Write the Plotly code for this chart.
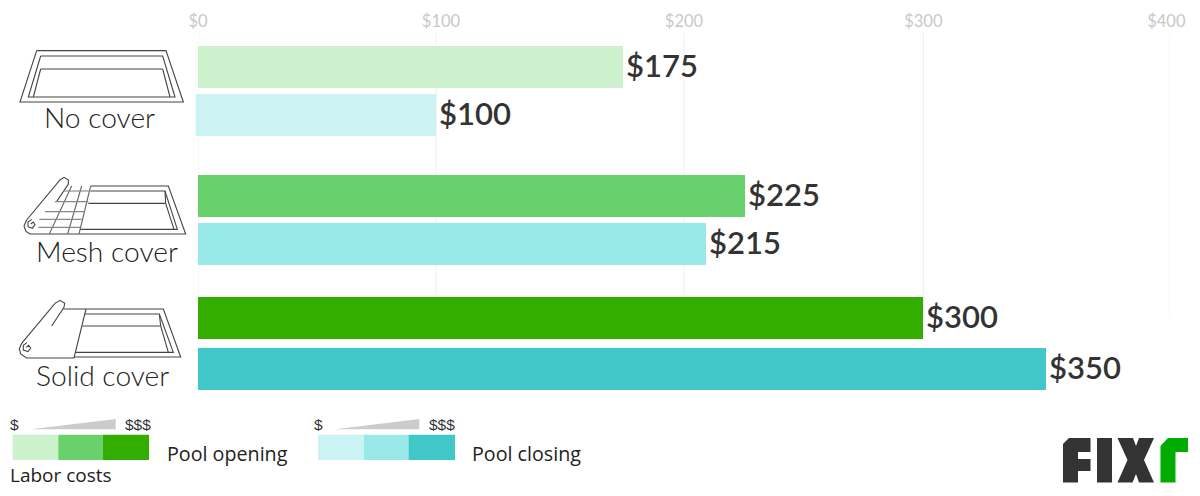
import plotly.graph_objects as go

# ---- data ----
covers = ["No cover", "Mesh cover", "Solid cover"]
pool_opening = [175, 225, 298.5]
pool_closing = [98, 209, 349]
opening_labels = ["$175", "$225", "$300"]
closing_labels = ["$100", "$215", "$350"]
tick_values = [0, 100, 200, 298.5, 398.5]
grid_values = [0, 98, 200, 298.5, 400]
tick_labels = ["$0", "$100", "$200", "$300", "$400"]
opening_colors = ["#CDF0CD", "#68D16B", "#33AE00"]
closing_colors = ["#CBF3F3", "#98E9E8", "#41C7C8"]
series_labels = ["Pool opening", "Pool closing"]

# ---- layout constants (pixels of the 1200x496 page) ----
W, H = 1200, 496
PLOT_L, PLOT_R, PLOT_T, PLOT_B = 198, 1170, 33, 400
GRID_BOTTOM = 318
OPEN_ROWS = [67, 196, 318]
CLOSE_ROWS = [115, 244, 369]
BAR_H = 42
TEXT = "#333333"


def X(px):
    return px / W


def Y(py):
    return 1 - py / H


def path(points, close=False):
    d = "M " + " L ".join(f"{X(x):.5f},{Y(y):.5f}" for x, y in points)
    return d + (" Z" if close else "")


def zoomed(points, ox, oy):
    return [(ox + x / 3, oy + y / 3) for x, y in points]


def line_shape(points, ox=0, oy=0, color="#444444", width=1.1):
    return dict(type="path", xref="paper", yref="paper", path=path(zoomed(points, ox, oy)),
                line=dict(color=color, width=width))


def filled(points, color):
    return dict(type="path", xref="paper", yref="paper", path=path(points, True),
                fillcolor=color, line=dict(width=0), layer="above")


annotations = []

fig = go.Figure()
for rows, vals, cols, labels in [(OPEN_ROWS, pool_opening, opening_colors, opening_labels),
                                 (CLOSE_ROWS, pool_closing, closing_colors, closing_labels)]:
    fig.add_trace(go.Bar(
        y=rows, x=vals, orientation="h", width=BAR_H,
        marker=dict(color=cols, line=dict(width=0)),
        hoverinfo="skip", showlegend=False,
    ))
    for row, val, label in zip(rows, vals, labels):
        annotations.append(dict(text=label, x=val, y=row, xref="x", yref="y", showarrow=False,
                                xanchor="left", yanchor="middle", xshift=1, yshift=2.5,
                                font=dict(family="Lato", size=31, color=TEXT, weight=600)))

# gridlines stop above the last bars
shapes = [dict(type="line", xref="x", yref="y", x0=t, x1=t, y0=PLOT_T, y1=GRID_BOTTOM,
               line=dict(color="#EEEEEE", width=1), layer="below") for t in grid_values]

# pool icons
icons = [
    (0, 0, "#444444", [
        [(110, 152), (498, 152), (550, 306), (60, 306), (110, 152)],
        [(122, 168), (488, 168), (525, 291), (85, 291), (122, 168)],
        [(122, 207), (488, 207)],
        [(100, 291), (122, 207)],
        [(510, 291), (488, 207)],
    ]),
    (0, 160, "#444444", [
        [(272, 78), (505, 78), (557, 222), (90, 222), (78, 214), (72, 198), (80, 180), (180, 60), (192, 52), (205, 60), (205, 72), (170, 125)],
        [(272, 93), (495, 93), (532, 208), (240, 208)],
        [(265, 130), (495, 130)],
        [(495, 93), (497, 130), (522, 208)],
        [(92, 192), (100, 186), (105, 194), (97, 205), (84, 200), (84, 186), (95, 178)],
    ]),
    (0, 160, "#666666", [
        [(272, 78), (237, 222)],
        [(245, 78), (203, 222)],
        [(215, 78), (148, 222)],
    ]),
    (0, 160, "#888888", [
        [(190, 93), (272, 93)],
        [(165, 125), (265, 125)],
        [(135, 155), (255, 155)],
        [(118, 178), (245, 178)],
        [(115, 202), (240, 202)],
    ]),
    (0, 160, "#444444", [
        [(190, 447), (490, 447), (542, 591), (222, 591)],
        [(258, 447), (222, 594), (80, 594), (62, 582), (58, 566), (65, 550), (165, 430), (180, 421), (194, 430), (192, 442), (155, 498)],
        [(255, 462), (478, 462), (520, 577), (225, 577)],
        [(247, 498), (482, 498)],
        [(478, 462), (482, 498), (505, 577)],
        [(78, 562), (86, 556), (92, 564), (84, 575), (70, 570), (70, 556), (81, 548)],
    ]),
]
for ox, oy, color, strokes in icons:
    for pts in strokes:
        shapes.append(line_shape(pts, ox, oy, color))

# the first closing bar starts slightly left of the axis in the original
shapes.append(filled([(195.7, 94), (198.5, 94), (198.5, 136), (195.7, 136)], closing_colors[0]))

# legend swatches
swatch_y0, swatch_y1 = 434.7, 460
for edges, cols in [((12.7, 58.3, 102.7, 149), opening_colors), ((318, 364, 408.5, 455), closing_colors)]:
    for i, c in enumerate(cols):
        shapes.append(filled([(edges[i], swatch_y0), (edges[i + 1], swatch_y0),
                              (edges[i + 1], swatch_y1), (edges[i], swatch_y1)], c))
shapes.append(filled([(30.7, 429.3), (115.7, 429.3), (115.7, 419)], "#CCCCCC"))
shapes.append(filled([(335, 429.3), (419.3, 429.3), (419.3, 419)], "#CCCCCC"))

# logo
DARK, GREEN = "#333333", "#00AC00"
shapes += [
    filled([(1063, 444), (1069, 438), (1090.5, 438), (1090.5, 452), (1078, 452), (1078, 459), (1090.5, 459),
            (1090.5, 471), (1078, 471), (1078, 482.5), (1063, 482.5)], DARK),
    filled([(1097, 438), (1112, 438), (1112, 482.5), (1097, 482.5)], DARK),
    filled([(1117.5, 438), (1133, 438), (1136, 446), (1139, 438), (1154, 438), (1144, 460), (1154, 482.5),
            (1139, 482.5), (1136, 474), (1132.5, 482.5), (1117.5, 482.5), (1127.5, 460)], DARK),
    filled([(1160.5, 446), (1168, 438), (1188, 438), (1188, 452), (1175.5, 452), (1175.5, 482.5), (1160.5, 482.5)], GREEN),
]


def note(text, x, y, size, family, color=TEXT, anchor="left", weight=400):
    annotations.append(dict(text=text, x=X(x), y=Y(y), xref="paper", yref="paper", showarrow=False,
                            xanchor=anchor, yanchor="middle", align=anchor,
                            font=dict(family=family, size=size, color=color, weight=weight)))


for label, cx, cy in zip(covers, (99, 106.5, 102), (117, 251, 375)):
    note(label, cx, cy, 28.2, "Lato", "#222222", "center", 300)
note("$", 7.5, 424, 15.5, "Liberation Sans")
note("$$$", 123, 424, 15.5, "Liberation Sans")
note("$", 311.5, 424, 15.5, "Liberation Sans")
note("$$$", 427, 424, 15.5, "Liberation Sans")
note(series_labels[0], 164.5, 453, 19.7, "Open Sans", "#222222")
note(series_labels[1], 470, 453, 19.7, "Open Sans", "#222222")
note("Labor costs", 8, 475, 19, "Open Sans", "#222222")

fig.update_layout(
    width=W, height=H, autosize=False,
    margin=dict(l=0, r=0, t=0, b=0),
    paper_bgcolor="white", plot_bgcolor="rgba(0,0,0,0)",
    bargap=0, barmode="overlay",
    xaxis=dict(domain=[X(PLOT_L), X(PLOT_R)], range=[0, 400], side="top", anchor="y", automargin=False,
               tickmode="array", tickvals=tick_values, ticktext=tick_labels, ticklabelstandoff=2,
               tickfont=dict(family="Lato", size=16.5, color="#C8C8C8"),
               showgrid=False, zeroline=False, showline=False, ticks=""),
    yaxis=dict(domain=[Y(PLOT_B), Y(PLOT_T)], range=[PLOT_B, PLOT_T], visible=False, automargin=False),
    shapes=shapes, annotations=annotations,
)

fig.write_html("out.html", config={"displayModeBar": False},
               post_script="document.body.style.margin='0';document.documentElement.style.overflow='hidden';")
